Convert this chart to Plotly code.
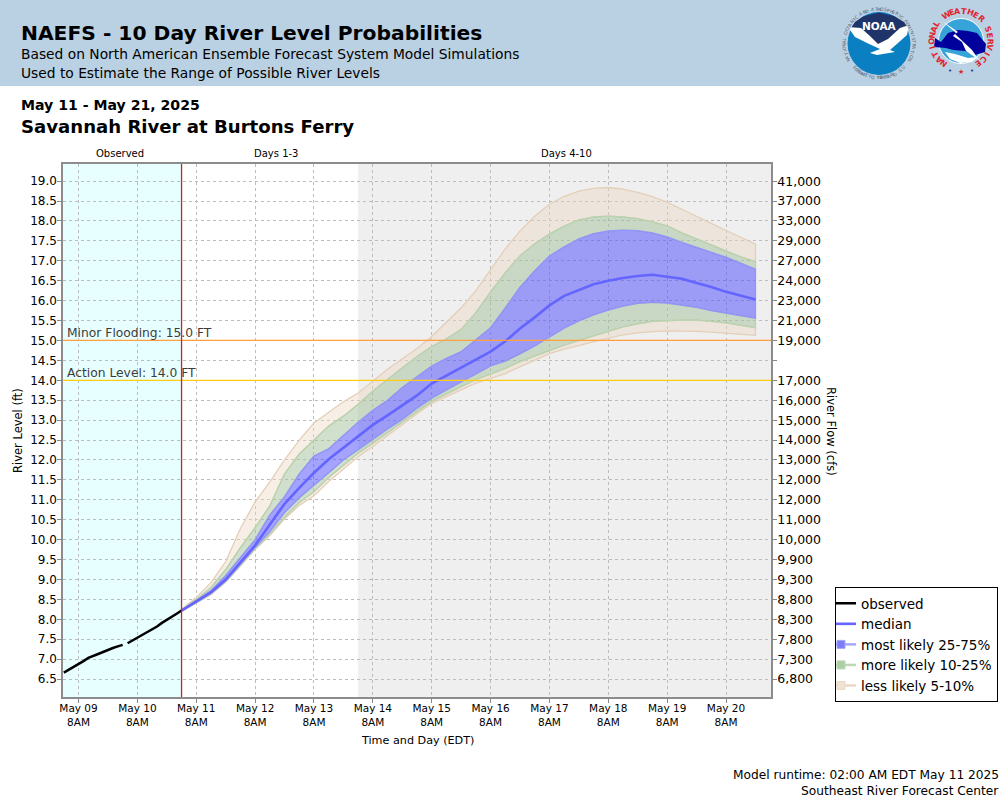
import math
import pandas as pd
import plotly.graph_objects as go

# observed stage, hours after May 09 02:00 (None = gap in the gauge record)
obs_hours = list(range(0, 25, 2)) + [25] + list(range(26, 49, 2))
observed = [6.66, 6.73, 6.79, 6.88, 6.95, 7.03, 7.09, 7.13, 7.18, 7.24, 7.28, 7.32, 7.36, None,
            7.40, 7.47, 7.53, 7.60, 7.67, 7.75, 7.82, 7.91, 7.98, 8.06, 8.14, 8.22]

# forecast percentiles, 6 hourly from May 11 02:00
p95 = [8.25, 8.55, 8.92, 9.45, 10.28, 10.95, 11.45, 12.0, 12.5, 12.93, 13.2, 13.46, 13.68, 13.97,
       14.28, 14.54, 14.8, 15.1, 15.46, 15.82, 16.25, 16.78, 17.3, 17.75, 18.12, 18.42, 18.62,
       18.75, 18.82, 18.84, 18.8, 18.72, 18.61, 18.47, 18.3, 18.12, 17.94, 17.76, 17.6, 17.42]
p90 = [8.24, 8.5, 8.8, 9.25, 9.8, 10.3, 10.85, 11.65, 12.15, 12.5, 12.85, 13.1, 13.4, 13.73,
       14.02, 14.32, 14.6, 14.85, 15.04, 15.28, 15.7, 16.22, 16.7, 17.13, 17.43, 17.67, 17.87,
       18.03, 18.1, 18.12, 18.1, 18.06, 17.98, 17.88, 17.7, 17.55, 17.4, 17.23, 17.1, 16.98]
p75 = [8.22, 8.47, 8.72, 9.1, 9.55, 10.0, 10.62, 11.08, 11.65, 12.1, 12.28, 12.62, 12.95, 13.25,
       13.5, 13.82, 14.1, 14.36, 14.55, 14.72, 15.02, 15.32, 15.82, 16.34, 16.75, 17.12, 17.35,
       17.55, 17.68, 17.75, 17.77, 17.76, 17.7, 17.6, 17.46, 17.33, 17.22, 17.09, 16.94, 16.79]
median = [8.22, 8.45, 8.68, 9.0, 9.42, 9.86, 10.38, 10.9, 11.3, 11.68, 12.02, 12.3, 12.6, 12.88,
          13.12, 13.38, 13.62, 13.92, 14.12, 14.32, 14.5, 14.72, 14.98, 15.3, 15.58, 15.88, 16.12,
          16.26, 16.41, 16.5, 16.57, 16.62, 16.65, 16.6, 16.55, 16.44, 16.34, 16.22, 16.12, 16.03]
p25 = [8.21, 8.42, 8.65, 8.97, 9.38, 9.8, 10.2, 10.68, 11.05, 11.36, 11.68, 12.0, 12.25, 12.52,
       12.78, 13.02, 13.3, 13.55, 13.76, 13.96, 14.15, 14.36, 14.48, 14.66, 14.86, 15.08, 15.31,
       15.49, 15.64, 15.76, 15.86, 15.93, 15.96, 15.94, 15.89, 15.83, 15.75, 15.69, 15.62, 15.56]
p10 = [8.21, 8.41, 8.64, 8.95, 9.35, 9.78, 10.14, 10.56, 10.93, 11.2, 11.56, 11.86, 12.17, 12.42,
       12.68, 12.95, 13.22, 13.47, 13.65, 13.84, 14.02, 14.15, 14.3, 14.47, 14.62, 14.75, 14.88,
       15.0, 15.12, 15.23, 15.34, 15.42, 15.48, 15.5, 15.51, 15.51, 15.48, 15.44, 15.38, 15.32]
p05 = [8.2, 8.4, 8.62, 8.93, 9.33, 9.75, 10.1, 10.52, 10.86, 11.1, 11.46, 11.76, 12.08, 12.34,
       12.6, 12.88, 13.16, 13.42, 13.6, 13.76, 13.93, 14.05, 14.17, 14.32, 14.5, 14.67, 14.78,
       14.87, 14.97, 15.06, 15.14, 15.19, 15.22, 15.24, 15.24, 15.23, 15.21, 15.19, 15.16, 15.13]

stage_ticks = [6.5, 7.0, 7.5, 8.0, 8.5, 9.0, 9.5, 10.0, 10.5, 11.0, 11.5, 12.0, 12.5, 13.0, 13.5,
               14.0, 14.5, 15.0, 15.5, 16.0, 16.5, 17.0, 17.5, 18.0, 18.5, 19.0]
flow_labels = ["6,800", "7,300", "7,800", "8,300", "8,800", "9,300", "9,900", "10,000", "11,000",
               "12,000", "12,000", "13,000", "14,000", "15,000", "16,000", "17,000", "", "19,000",
               "21,000", "23,000", "24,000", "27,000", "29,000", "33,000", "37,000", "41,000"]
day_labels = ["May 09", "May 10", "May 11", "May 12", "May 13", "May 14", "May 15", "May 16",
              "May 17", "May 18", "May 19", "May 20"]

FONT = "DejaVu Sans"
L, R, T, B = 63, 771, 164, 697


def fx(px):
    return (px - L) / (R - L)


def fy(py):
    return (B - py) / (B - T)


def poly(points, color):
    d = "M " + " L ".join(f"{fx(x):.5f},{fy(y):.5f}" for x, y in points) + " Z"
    return dict(type="path", xref="paper", yref="paper", path=d, fillcolor=color, line_width=0, layer="above")


def disc(cx, cy, r, color, line=None):
    return dict(type="circle", xref="paper", yref="paper", x0=fx(cx - r), x1=fx(cx + r), y0=fy(cy + r), y1=fy(cy - r),
                fillcolor=color, line=dict(color=line or color, width=1 if line else 0), layer="above")


def label(x, y, text, size, color="black", bold=False, anchor="left", angle=0):
    return dict(xref="paper", yref="paper", x=fx(x), y=fy(y), text=f"<b>{text}</b>" if bold else text,
                showarrow=False, xanchor=anchor, yanchor="middle", textangle=angle,
                font=dict(family=FONT, size=size, color=color), borderpad=0, borderwidth=0)


def ring(text, cx, cy, r, start, end, size, color, bold=False, flip=False):
    out = []
    step = (end - start) / (len(text) - 1)
    for i, ch in enumerate(text):
        if ch == " ":
            continue
        a = start + i * step
        x = cx + r * math.sin(math.radians(a))
        y = cy - r * math.cos(math.radians(a))
        out.append(label(x, y, ch, size, color, bold, "center", a + 180 if flip else a))
    return out


obs_times = pd.Timestamp("2025-05-09 02:00") + pd.to_timedelta(obs_hours, unit="h")
fc_times = list(pd.date_range("2025-05-11 02:00", periods=len(median), freq="6h"))
day_ticks = list(pd.date_range("2025-05-09 08:00", periods=len(day_labels), freq="D"))
x_range = ["2025-05-09 01:40", "2025-05-21 02:20"]
y_range = [6.05, 19.43]

TAN = "rgba(235,215,190,0.4)"
GREEN = "rgba(163,193,153,0.5)"
BLUE = "rgba(73,73,255,0.5)"
bands = [(p90, p95, TAN, "#e4cfb8"), (p05, p10, TAN, "#e4cfb8"),
         (p75, p90, GREEN, "#b7d3b0"), (p10, p25, GREEN, "#b7d3b0"),
         (p25, p75, BLUE, "#9494fb")]

fig = go.Figure()
for lower, upper, fill, edge in bands:
    fig.add_trace(go.Scatter(x=fc_times + fc_times[::-1], y=upper + lower[::-1], mode="lines", fill="toself",
                             fillcolor=fill, line=dict(color=edge, width=1.3), showlegend=False, hoverinfo="skip"))

fig.add_trace(go.Scatter(x=obs_times, y=observed, mode="lines", name="observed",
                         line=dict(color="black", width=2.5)))
fig.add_trace(go.Scatter(x=fc_times, y=median, mode="lines", name="median", yaxis="y2",
                         line=dict(color="#6464ff", width=2.6)))
legend_keys = [("most likely 25-75%", "#a6a6ff", "#7c7cf5"),
               ("more likely 10-25%", "#bcd8b5", "#a9cfa2"),
               ("less likely 5-10%", "#ead8c4", "#efe2d2")]
for name, line_col, box_col in legend_keys:
    fig.add_trace(go.Scatter(x=[None], y=[None], mode="lines+markers", name=name,
                             line=dict(color=line_col, width=2.5),
                             marker=dict(symbol="square", size=8, color=box_col,
                                         line=dict(color=line_col, width=1))))

shapes = [
    dict(type="rect", xref="x", yref="paper", x0=x_range[0], x1="2025-05-11 02:00", y0=0, y1=1,
         fillcolor="#e8ffff", line_width=0, layer="below"),
    dict(type="rect", xref="x", yref="paper", x0="2025-05-14 02:00", x1=x_range[1], y0=0, y1=1,
         fillcolor="#efefef", line_width=0, layer="below"),
    dict(type="line", xref="paper", yref="y", x0=0, x1=1, y0=15, y1=15, line=dict(color="#ffa040", width=1.3)),
    dict(type="line", xref="paper", yref="y", x0=0, x1=1, y0=14, y1=14, line=dict(color="#ffcc11", width=1.3)),
    dict(type="line", xref="x", yref="paper", x0="2025-05-11 02:00", x1="2025-05-11 02:00", y0=0, y1=1,
         line=dict(color="#d02020", width=1.3)),
    dict(type="rect", xref="paper", yref="paper", x0=fx(0), x1=fx(1000), y0=fy(86), y1=fy(0),
         fillcolor="#bad1e4", line_width=0, layer="below"),
]

# NOAA badge
shapes += [
    disc(879, 43.5, 31.5, "#0a7fc2"),
    poly([(855, 22), (864, 16), (879, 12.5), (894, 16), (904, 22), (908, 28), (897, 32), (888, 40), (878, 45),
          (870, 37), (860, 28), (851, 28)], "#1f3468"),
    poly([(848, 27), (861, 28), (870, 36), (878, 44), (888, 39), (900, 28), (909, 25), (907, 35), (898, 43),
          (890, 50), (895, 52), (877, 55), (870, 53), (880, 49), (867, 43), (855, 37)], "white"),
]
# NWS badge
shapes += [
    disc(961, 41, 22.5, "#36a4d8", "white"),
    poly([(941, 42), (948, 33), (958, 30), (968, 31), (977, 33), (986, 44), (985, 52), (975, 55), (965, 51),
          (953, 50), (946, 48), (934, 47), (935, 38)], "#00009c"),
    poly([(942, 21), (958, 32), (955, 34), (972, 50), (979, 60), (966, 51), (962, 42), (953, 36), (956, 33)], "white"),
    poly([(945, 52), (955, 54), (968, 58), (977, 57), (972, 62), (960, 63), (950, 59)], "white"),
]

annotations = [
    label(21, 33, "NAEFS - 10 Day River Level Probabilities", 20.25, bold=True),
    label(21, 54, "Based on North American Ensemble Forecast System Model Simulations", 13.8),
    label(21, 73, "Used to Estimate the Range of Possible River Levels", 13.8),
    label(21, 105, "May 11 - May 21, 2025", 14.1, bold=True),
    label(21, 126, "Savannah River at Burtons Ferry", 18.1, bold=True),
    label(120, 154, "Observed", 10, anchor="center"),
    label(276, 154, "Days 1-3", 10, anchor="center"),
    label(566, 154, "Days 4-10", 10, anchor="center"),
    label(67, 333, "Minor Flooding: 15.0 FT", 12.3, "#3c3c3c"),
    label(67, 373, "Action Level: 14.0 FT", 12.3, "#3c3c3c"),
    label(18, 431, "River Level (ft)", 11.5, anchor="center", angle=-90),
    label(831, 431, "River Flow (cfs)", 11.5, anchor="center", angle=90),
    label(417, 740, "Time and Day (EDT)", 11.2, anchor="center"),
    label(999, 775, "Model runtime: 02:00 AM EDT May 11 2025", 12.2, anchor="right"),
    label(999, 791, "Southeast River Forecast Center", 12.2, anchor="right"),
    label(879.5, 26, "NOAA", 10.5, "white", True, "center"),
]
annotations += ring("NATIONAL OCEANIC AND ATMOSPHERIC ADMINISTRATION", 879, 43.5, 34.5, -118, 118, 4.5, "#59636e")
annotations += ring("U.S. DEPARTMENT OF COMMERCE", 879, 43.5, 34.5, 135, 225, 4.5, "#59636e", flip=True)[::-1]
annotations += ring("NATIONAL WEATHER SERVICE", 961, 40, 29, -143, 143, 8, "#e0232b", True)
annotations += [label(961, 71.5, "★", 7, "#e0232b", anchor="center"), label(950, 71, "•", 7, "#1c2f8f", anchor="center"),
                label(972, 71, "•", 7, "#1c2f8f", anchor="center")]

grid = dict(showgrid=True, gridcolor="#bcbcbc", griddash="3px,3px", gridwidth=1)
fig.update_layout(
    width=1000, height=800, autosize=False,
    margin=dict(l=L, r=1000 - R, t=T, b=800 - B, pad=0, autoexpand=False),
    paper_bgcolor="white", plot_bgcolor="white",
    font=dict(family=FONT, color="black"),
    showlegend=True,
    legend=dict(xref="container", yref="container", x=835 / 1000, y=1 - 587 / 800, xanchor="left", yanchor="top",
                bgcolor="white", bordercolor="black",
                borderwidth=1, font=dict(family=FONT, size=13.5), itemwidth=30, indentation=-15,
                entrywidth=122, entrywidthmode="pixels",
                traceorder="normal", itemclick=False, itemdoubleclick=False),
    xaxis=dict(type="date", range=x_range, tickmode="array", tickvals=day_ticks,
               ticktext=[f"{d}<br>8AM" for d in day_labels], tickfont=dict(size=10.5), ticks="outside", ticklen=4,
               ticklabelstandoff=-3, tickcolor="#888", showline=True, linecolor="#8c8c8c", linewidth=1.5,
               mirror=True, tickangle=0, **grid),
    yaxis=dict(range=y_range, tickmode="array", tickvals=stage_ticks, ticktext=[f"{v:.1f}" for v in stage_ticks],
               tickfont=dict(size=12), ticks="outside", ticklen=4, ticklabelstandoff=-2, tickcolor="#888",
               showline=True, linecolor="#8c8c8c", linewidth=1.5, zeroline=False, **grid),
    yaxis2=dict(range=y_range, overlaying="y", side="right", tickmode="array", tickvals=stage_ticks,
                ticktext=flow_labels, tickfont=dict(size=12.5), ticks="outside", ticklen=4, ticklabelstandoff=-2,
                tickcolor="#888", showline=True, linecolor="#8c8c8c", linewidth=1.5, showgrid=False, zeroline=False),
    shapes=shapes,
    annotations=annotations,
)

fig.write_html("out.html", config={"displayModeBar": False, "responsive": False},
               default_width="1000px", default_height="800px",
               post_script="document.body.style.margin='0';document.body.style.overflow='hidden';")
